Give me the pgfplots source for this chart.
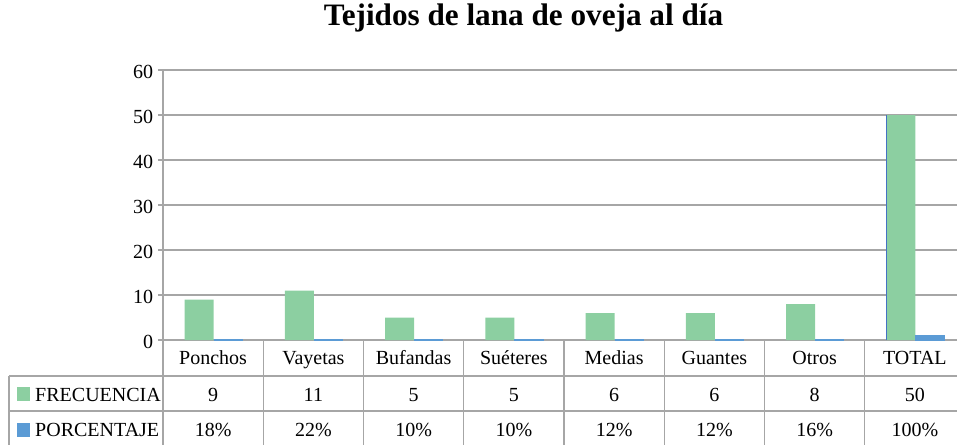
\documentclass[border=0pt]{standalone}
\usepackage{fontspec}
\setmainfont{Liberation Serif}
\usepackage{pgfplots}
\pgfplotsset{compat=1.18}
\usepackage{pgfplotstable}

\definecolor{frec}{RGB}{140,207,161}
\definecolor{porc}{RGB}{91,155,213}
\definecolor{edgeblue}{RGB}{68,114,196}
\definecolor{linegray}{RGB}{166,166,166}

\pgfplotstableread{
x cat freq pct
0 Ponchos 9 0.18
1 Vayetas 11 0.22
2 Bufandas 5 0.10
3 Suéteres 5 0.10
4 Medias 6 0.12
5 Guantes 6 0.12
6 Otros 8 0.16
7 TOTAL 50 1.00
}\datatable

\begin{document}
\begin{tikzpicture}
\path[use as bounding box] (-122.25pt,-78pt) rectangle (595.5pt,255pt);
\begin{axis}[
    at={(0,0)}, anchor=south west,
    scale only axis,
    width=595.5pt, height=202.5pt,
    xmin=-0.5, xmax=7.42,
    ymin=0, ymax=60,
    ytick={0,10,...,60},
    xtick=\empty,
    axis lines*=left,
    axis line style={linegray, line width=1pt},
    ymajorgrids,
    grid style={linegray, line width=1pt},
    tick align=outside,
    major tick length=3.75pt,
    ytick style={linegray, line width=1pt},
    yticklabel style={font=\fontsize{15}{18}\selectfont, inner sep=0pt, xshift=-3.5pt, yshift=-1.5pt},
    /pgf/number format/assume math mode=true,
    clip=false,
    title={Tejidos de lana de oveja al día},
    title style={font=\bfseries\fontsize{23.4}{28}\selectfont, at={(axis description cs:0.454,1.136)}, anchor=base, yshift=0pt},
    every node near coord/.append style={font=\fontsize{15}{18}\selectfont, text=black, anchor=base},
]
% bars
\addplot[ybar, bar width=21.75pt, bar shift=-10.5pt, fill=frec, draw=none] table[x=x, y=freq] {\datatable};
\addplot[ybar, bar width=21.25pt, bar shift=11.25pt, fill=porc, draw=porc, line width=0.5pt] table[x=x, y=pct] {\datatable};
\draw[edgeblue, line width=0.8pt] (axis cs:6.716,0) -- (axis cs:6.716,50);

% data table rows
\addplot[draw=none, mark=none, nodes near coords, point meta=explicit symbolic]
    table[x=x, y expr=-5.333, meta=cat] {\datatable};
\addplot[draw=none, mark=none, nodes near coords, point meta=explicit]
    table[x=x, y expr=-13.556, meta=freq] {\datatable};
\addplot[draw=none, mark=none, point meta={100*\thisrow{pct}},
    nodes near coords={\pgfmathprintnumber[fixed,precision=0]{\pgfplotspointmeta}\%}]
    table[x=x, y expr=-21.333] {\datatable};

% table rules
\draw[linegray, line width=1pt] (axis cs:-2.036,-8) -- (axis cs:7.42,-8);
\draw[linegray, line width=1pt] (axis cs:-2.036,-15.78) -- (axis cs:7.42,-15.78);
\draw[linegray, line width=1pt] (axis cs:-2.036,-8) -- (axis cs:-2.036,-24);
\draw[linegray, line width=1pt] (axis cs:-0.5,0) -- (axis cs:-0.5,-24);
\pgfplotsinvokeforeach{0.5,1.5,2.5,3.5,4.5,5.5,6.5}{
  \draw[linegray, line width=1pt] (axis cs:#1,0) -- (axis cs:#1,-24);
}

% legend keys of the table
\fill[frec] (axis cs:-1.956,-10.44) rectangle (axis cs:-1.827,-13.56);
\fill[porc] (axis cs:-1.956,-18.52) rectangle (axis cs:-1.827,-21.48);
\node[anchor=base west, inner sep=0pt, font=\fontsize{15}{18}\selectfont] at (axis cs:-1.777,-13.556) {FRECUENCIA};
\node[anchor=base west, inner sep=0pt, font=\fontsize{15}{18}\selectfont] at (axis cs:-1.777,-21.333) {PORCENTAJE};
\end{axis}
\end{tikzpicture}
\end{document}
